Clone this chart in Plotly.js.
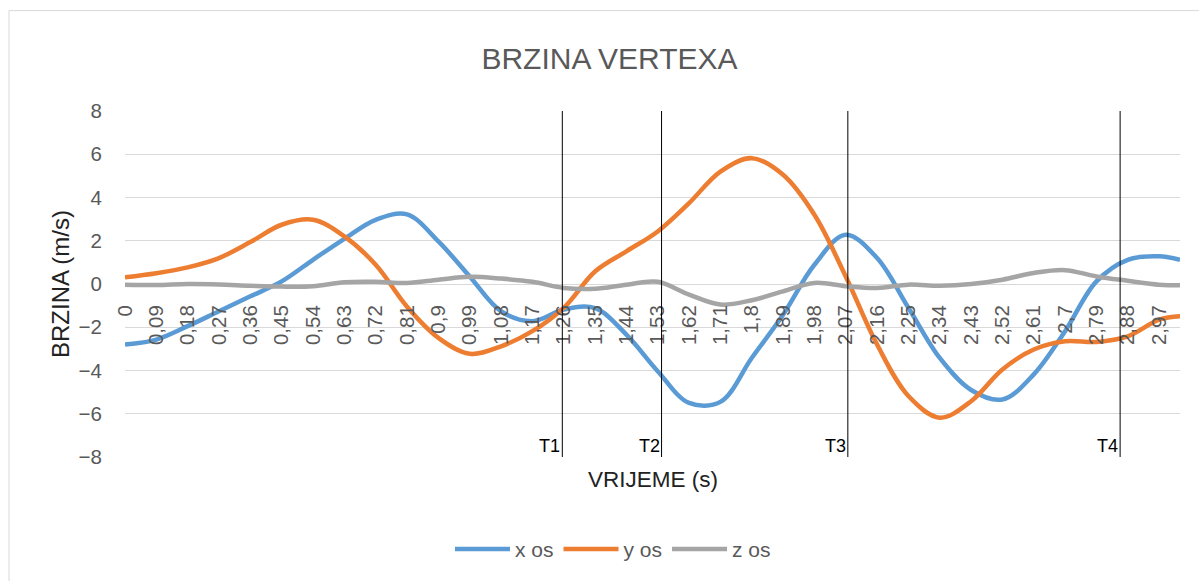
<!DOCTYPE html>
<html>
<head>
<meta charset="utf-8">
<script src="https://cdn.plot.ly/plotly-3.0.1.min.js"></script>
<style>html,body{margin:0;padding:0;background:#fff;}#chart{width:1199px;height:581px;}</style>
</head>
<body>
<div id="chart"></div>
<script>
// Time (s)
const times = [0, 0.09, 0.18, 0.27, 0.36, 0.45, 0.54, 0.63, 0.72, 0.81, 0.9, 0.99,
  1.08, 1.17, 1.26, 1.35, 1.44, 1.53, 1.62, 1.71, 1.8, 1.89, 1.98, 2.07, 2.16,
  2.25, 2.34, 2.43, 2.52, 2.61, 2.7, 2.79, 2.88, 2.97, 3.03];

// Vertex velocity components (m/s)
const xOs = [-2.8, -2.57, -1.95, -1.26, -0.57, 0.12, 1.12, 2.09, 2.97, 3.22, 1.97, 0.35,
  -1.26, -1.72, -1.18, -1.12, -2.34, -4.03, -5.5, -5.45, -3.42, -1.42, 0.89, 2.28, 1.2,
  -1.1, -3.42, -4.9, -5.34, -4.18, -2.18, 0.12, 1.12, 1.28, 1.12];
const yOs = [0.31, 0.5, 0.77, 1.2, 1.94, 2.74, 2.97, 2.2, 0.89, -1.05, -2.49, -3.23,
  -2.88, -2.18, -1.1, 0.58, 1.51, 2.43, 3.74, 5.2, 5.82, 5.05, 3.2, 0.35, -2.8,
  -5.18, -6.18, -5.42, -3.95, -3.03, -2.65, -2.68, -2.42, -1.65, -1.49];
const zOs = [-0.03, -0.05, 0.0, -0.02, -0.08, -0.12, -0.1, 0.08, 0.1, 0.05, 0.2, 0.33,
  0.25, 0.1, -0.18, -0.22, -0.03, 0.1, -0.49, -0.95, -0.75, -0.34, 0.05, -0.1, -0.18,
  -0.03, -0.08, 0.0, 0.2, 0.51, 0.64, 0.35, 0.15, -0.03, -0.06];

const seriesNames = ["x os", "y os", "z os"];
const seriesColors = ["#5B9BD5", "#ED7D31", "#A5A5A5"];

// Category tick labels
const tickLabels = ["0", "0,09", "0,18", "0,27", "0,36", "0,45", "0,54", "0,63", "0,72",
  "0,81", "0,9", "0,99", "1,08", "1,17", "1,26", "1,35", "1,44", "1,53", "1,62", "1,71",
  "1,8", "1,89", "1,98", "2,07", "2,16", "2,25", "2,34", "2,43", "2,52", "2,61", "2,7",
  "2,79", "2,88", "2,97"];

// Phase markers
const markerTimes = [1.256, 1.541, 2.076, 2.858];
const markerLabels = ["T1", "T2", "T3", "T4"];

const FONT = "Liberation Sans, Arial, sans-serif";
const series = [xOs, yOs, zOs];
const traces = series.map((vals, k) => ({
  type: "scatter", mode: "lines", x: times, y: vals, name: seriesNames[k],
  line: {color: seriesColors[k], width: 4.5, shape: "spline", smoothing: 1}
}));

const tickVals = tickLabels.map(s => parseFloat(s.replace(",", ".")));

const shapes = markerTimes.map(t => ({
  type: "line", xref: "x", yref: "y", x0: t, x1: t, y0: -8, y1: 8,
  line: {color: "#000", width: 1}
}));
shapes.push({type: "rect", xref: "paper", yref: "paper",
  x0: (9 - 125) / 1055, x1: 1.2, y0: -0.6, y1: (457.7 - 10) / 347,
  line: {color: "#D9D9D9", width: 1}, layer: "below"});

const annotations = markerTimes.map((t, i) => ({
  x: t, y: -8, xref: "x", yref: "y", text: markerLabels[i], showarrow: false,
  xanchor: "right", yanchor: "bottom", xshift: 0, yshift: -1,
  font: {family: FONT, size: 18, color: "#000"}
}));
annotations.push({x: 0.5, y: (457.7 - 480) / 347, xref: "paper", yref: "paper",
  text: "VRIJEME (s)", showarrow: false, xanchor: "center", yanchor: "middle",
  font: {family: FONT, size: 22.5, color: "#222"}});
annotations.push({x: (60 - 125) / 1055, y: 0.5, xref: "paper", yref: "paper",
  text: "BRZINA (m/s)", showarrow: false, textangle: -90, xanchor: "center", yanchor: "middle",
  font: {family: FONT, size: 24, color: "#222"}});

const layout = {
  width: 1199, height: 581,
  margin: {l: 125, r: 19, t: 111, b: 123},
  paper_bgcolor: "#fff", plot_bgcolor: "#fff",
  title: {text: "BRZINA VERTEXA", x: 609.5 / 1199, xanchor: "center", y: 1 - 58 / 581, yanchor: "middle",
    font: {family: FONT, size: 30, color: "#595959"}},
  xaxis: {range: [0, 3.03], tickvals: tickVals, ticktext: tickLabels, tickangle: -90,
    anchor: "free", position: 0.5, showgrid: false, zeroline: false, showline: false,
    ticks: "outside", ticklen: 12, tickcolor: "rgba(0,0,0,0)",
    tickfont: {family: FONT, size: 20.5, color: "#595959"}},
  yaxis: {range: [-8, 8], dtick: 2, tick0: 0, showgrid: true, gridcolor: "#D9D9D9", gridwidth: 1,
    zeroline: false, showline: false, ticks: "outside", ticklen: 18, tickcolor: "rgba(0,0,0,0)",
    tickfont: {family: FONT, size: 20.5, color: "#595959"}},
  legend: {orientation: "h", x: (613 - 125) / 1055, xanchor: "center", y: (457.7 - 549) / 347, yanchor: "middle",
    itemwidth: 55, font: {family: FONT, size: 21, color: "#595959"}},
  showlegend: true,
  shapes: shapes,
  annotations: annotations
};

Plotly.newPlot("chart", traces, layout, {displayModeBar: false, staticPlot: true});
</script>
</body>
</html>
